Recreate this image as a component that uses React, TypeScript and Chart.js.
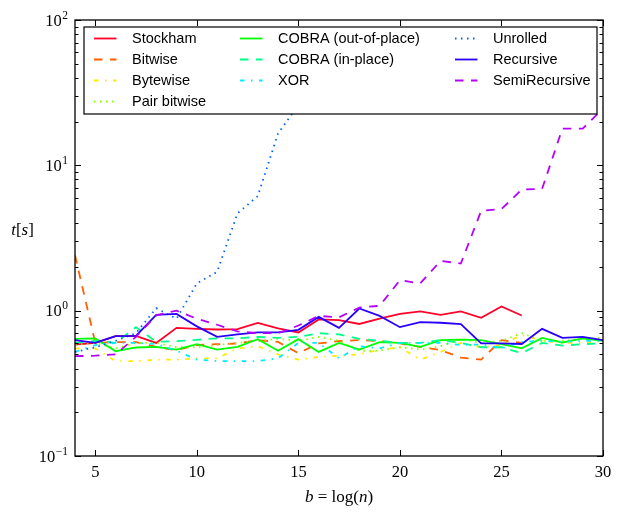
import { useEffect, useRef } from "react";
import { Chart, registerables } from "chart.js";

Chart.register(...registerables);

// log2 of the transform size
const sizes = [
  4, 5, 6, 7, 8, 9, 10, 11, 12, 13, 14, 15, 16, 17, 18, 19, 20, 21, 22, 23, 24,
  25, 26, 27, 28, 29, 30,
];

const stockham = [
  0.585, 0.6, 0.668, 0.67, 0.6, 0.762, 0.75, 0.742, 0.746, 0.824, 0.754, 0.708,
  0.87, 0.86, 0.81, 0.88, 0.95, 0.99, 0.936, 0.99, 0.893, 1.07, 0.927, null,
  null, null, null,
];
const bitwise = [
  2.41, 0.6, 0.607, 0.607, 0.563, 0.535, 0.58, 0.588, 0.595, 0.627, 0.61, 0.51,
  0.595, 0.617, 0.627, 0.617, 0.595, 0.563, 0.535, 0.476, 0.46, 0.627, 0.6,
  null, null, null, null,
];
const bytewise = [
  0.55, 0.55, 0.45, 0.45, 0.46, 0.46, 0.47, 0.47, 0.55, 0.57, 0.5, 0.46, 0.48,
  0.49, 0.5, 0.54, 0.56, 0.46, 0.52, 0.6, 0.56, 0.58, 0.68, 0.62, 0.6, 0.6,
  0.62,
];
const pairBitwise = [
  0.58, 0.6, 0.55, 0.6, 0.6, 0.56, 0.56, 0.58, 0.6, 0.62, 0.64, 0.62, 0.66,
  0.62, 0.53, 0.53, 0.56, 0.54, 0.57, 0.64, 0.6, 0.62, 0.7, 0.62, 0.62, 0.64,
  0.65,
];
const cobraOutOfPlace = [
  0.64, 0.644, 0.526, 0.558, 0.563, 0.54, 0.588, 0.54, 0.563, 0.637, 0.53,
  0.637, 0.52, 0.6, 0.54, 0.607, 0.6, 0.563, 0.627, 0.633, 0.627, 0.588, 0.55,
  0.65, 0.604, 0.644, 0.62,
];
const cobraInPlace = [
  0.6, 0.62, 0.6, 0.77, 0.61, 0.617, 0.63, 0.645, 0.645, 0.66, 0.65, 0.66, 0.7,
  0.686, 0.64, 0.62, 0.6, 0.6, 0.627, 0.6, 0.56, 0.56, 0.51, 0.6, 0.575, 0.588,
  0.595,
];
const xor = [
  0.52, 0.58, 0.6, 0.6, 0.59, 0.53, 0.46, 0.45, 0.45, 0.45, 0.47, 0.6, 0.6,
  0.47, 0.57, 0.55, 0.6, 0.6, 0.6, 0.58, 0.585, 0.55, 0.61, 0.62, 0.61, 0.62,
  0.62,
];
const unrolled = [
  0.52, 0.56, 0.62, 0.7, 1.04, 0.88, 1.54, 1.85, 4.67, 6.14, 16.6, 26, null,
  null, null, null, null, null, null, null, null, null, null, null, null, null,
  null,
];
const recursive = [
  0.627, 0.6, 0.668, 0.67, 0.936, 0.95, 0.78, 0.66, 0.686, 0.708, 0.71, 0.738,
  0.906, 0.762, 1.035, 0.92, 0.77, 0.833, 0.826, 0.807, 0.595, 0.595, 0.59,
  0.75, 0.65, 0.66, 0.627,
];
const semiRecursive = [
  0.486, 0.49, 0.5, 0.66, 0.93, 1.0, 0.88, 0.8, 0.72, 0.7, 0.7, 0.79, 0.92,
  0.9, 1.05, 1.08, 1.62, 1.54, 2.2, 2.11, 4.86, 5.0, 6.82, 6.88, 17.9, 17.9,
  24.6,
];

const names = [
  "Stockham",
  "Bitwise",
  "Bytewise",
  "Pair bitwise",
  "COBRA (out-of-place)",
  "COBRA (in-place)",
  "XOR",
  "Unrolled",
  "Recursive",
  "SemiRecursive",
];
const series = [
  stockham,
  bitwise,
  bytewise,
  pairBitwise,
  cobraOutOfPlace,
  cobraInPlace,
  xor,
  unrolled,
  recursive,
  semiRecursive,
];

const xTicks = [5, 10, 15, 20, 25, 30];
const yTicks = [0.1, 1, 10, 100];
const minorSteps = [2, 3, 4, 5, 6, 7, 8, 9];

// gist_rainbow, sampled once per series
const colors = [
  "#ff0029",
  "#ff6000",
  "#ffea00",
  "#8aff00",
  "#00ff00",
  "#00ff89",
  "#00ecff",
  "#0061ff",
  "#2900ff",
  "#b400ff",
];
// matplotlib cycle: "-", "--", "-.", ":"
const dashes = [[], [8.5, 7.5], [4.5, 6.5, 1.5, 6.5], [1.5, 4.5]];
const legendColumns = [4, 3, 3];

const SERIF = '"Liberation Serif", serif';
const SANS = '"Liberation Sans", Arial, sans-serif';

function drawRich(
  ctx: CanvasRenderingContext2D,
  parts: [string, boolean][],
  cx: number,
  cy: number,
  size: number
) {
  const font = (it: boolean) => `${it ? "italic " : ""}${size}px ${SERIF}`;
  let w = 0;
  for (const [t, it] of parts) {
    ctx.font = font(it);
    w += ctx.measureText(t).width;
  }
  let x = cx - w / 2;
  ctx.textAlign = "left";
  ctx.textBaseline = "middle";
  for (const [t, it] of parts) {
    ctx.font = font(it);
    ctx.fillText(t, x, cy);
    x += ctx.measureText(t).width;
  }
}

const decorations = {
  id: "decorations",
  afterDraw(chart: Chart) {
    const { ctx, chartArea: a } = chart;
    const xs = chart.scales.x;
    const ys = chart.scales.y;
    ctx.save();

    // inward ticks on all four sides
    ctx.strokeStyle = "#000";
    ctx.lineWidth = 1;
    ctx.setLineDash([]);
    ctx.beginPath();
    for (const v of xTicks) {
      const px = Math.round(xs.getPixelForValue(v)) + 0.5;
      ctx.moveTo(px, a.bottom);
      ctx.lineTo(px, a.bottom - 6);
      ctx.moveTo(px, a.top);
      ctx.lineTo(px, a.top + 6);
    }
    for (const base of yTicks) {
      const steps = [1, ...(base < 100 ? minorSteps : [])];
      for (const m of steps) {
        const py = Math.round(ys.getPixelForValue(base * m)) + 0.5;
        const len = m === 1 ? 6 : 3.5;
        ctx.moveTo(a.left, py);
        ctx.lineTo(a.left + len, py);
        ctx.moveTo(a.right, py);
        ctx.lineTo(a.right - len, py);
      }
    }
    ctx.stroke();

    ctx.lineWidth = 1.3;
    ctx.strokeRect(a.left, a.top, a.right - a.left, a.bottom - a.top);

    // tick labels
    ctx.fillStyle = "#000";
    ctx.font = `16.5px ${SERIF}`;
    ctx.textAlign = "center";
    ctx.textBaseline = "middle";
    for (const v of xTicks) {
      ctx.fillText(String(v), xs.getPixelForValue(v), a.bottom + 17);
    }
    for (const v of yTicks) {
      const py = ys.getPixelForValue(v);
      const exp = Math.round(Math.log10(v));
      const sup = exp < 0 ? `\u2212${-exp}` : String(exp);
      ctx.textAlign = "right";
      ctx.textBaseline = "alphabetic";
      ctx.font = `11.5px ${SERIF}`;
      const supW = ctx.measureText(sup).width;
      const right = a.left - 7;
      ctx.fillText(sup, right, py - 1.5);
      ctx.font = `16.5px ${SERIF}`;
      ctx.fillText("10", right - supW - 0.5, py + 5.5);
    }

    // axis titles
    drawRich(
      ctx,
      [
        ["b", true],
        [" = ", false],
        ["log", false],
        ["(", false],
        ["n", true],
        [")", false],
      ],
      (a.left + a.right) / 2,
      a.bottom + 42,
      17
    );
    drawRich(
      ctx,
      [
        ["t", true],
        ["[", false],
        ["s", true],
        ["]", false],
      ],
      22.5,
      231,
      17
    );

    // legend, column-major like matplotlib's ncol=3
    const box = { left: 84, top: 27, right: 597, bottom: 114 };
    ctx.fillStyle = "#fff";
    ctx.fillRect(box.left, box.top, box.right - box.left, box.bottom - box.top);
    ctx.strokeStyle = "#000";
    ctx.lineWidth = 1.2;
    ctx.strokeRect(box.left, box.top, box.right - box.left, box.bottom - box.top);

    const colX = [94, 240, 455];
    const rowY = [38.5, 59.5, 80.5, 101.5];
    let idx = 0;
    legendColumns.forEach((count, c) => {
      for (let r = 0; r < count; r++, idx++) {
        const y = rowY[r];
        ctx.strokeStyle = colors[idx];
        ctx.lineWidth = 1.8;
        ctx.setLineDash(dashes[idx % 4]);
        ctx.beginPath();
        ctx.moveTo(colX[c], y);
        ctx.lineTo(colX[c] + 22.5, y);
        ctx.stroke();
        ctx.setLineDash([]);
        ctx.fillStyle = "#000";
        ctx.font = `14.5px ${SANS}`;
        ctx.textAlign = "left";
        ctx.textBaseline = "middle";
        ctx.fillText(names[idx], colX[c] + 38, y);
      }
    });

    ctx.restore();
  },
};

export default function App() {
  const canvasRef = useRef<HTMLCanvasElement>(null);
  const chartRef = useRef<Chart | null>(null);

  useEffect(() => {
    const canvas = canvasRef.current;
    if (!canvas) return;
    const ctx = canvas.getContext("2d");
    if (!ctx) return;

    if (chartRef.current) {
      chartRef.current.destroy();
    }

    chartRef.current = new Chart(ctx, {
      type: "line",
      data: {
        datasets: names.map((label, i) => ({
          label,
          data: sizes.map((b, j) => ({ x: b, y: series[i][j] })),
          borderColor: colors[i],
          borderWidth: 1.8,
          borderDash: dashes[i % 4],
          borderCapStyle: "butt",
          fill: false,
          pointRadius: 0,
          tension: 0,
          spanGaps: false,
          // later series on top, as matplotlib draws them
          order: names.length - i,
        })),
      },
      options: {
        animation: false,
        responsive: true,
        maintainAspectRatio: false,
        layout: { padding: { top: 20, right: 20, left: 0, bottom: 0 } },
        plugins: {
          legend: { display: false },
          tooltip: { enabled: false },
        },
        scales: {
          x: {
            type: "linear",
            min: 4,
            max: 30,
            grid: { display: false },
            border: { display: false },
            ticks: { display: false },
            afterFit(scale) {
              scale.height = 57;
            },
          },
          y: {
            type: "logarithmic",
            min: 0.1,
            max: 100,
            grid: { display: false },
            border: { display: false },
            ticks: { display: false },
            afterFit(scale) {
              scale.width = 75;
            },
          },
        },
      },
      plugins: [decorations],
    });

    return () => {
      chartRef.current?.destroy();
      chartRef.current = null;
    };
  }, []);

  return (
    <div
      style={{
        position: "fixed",
        left: 0,
        top: 0,
        width: 623,
        height: 513,
        background: "#fff",
      }}
    >
      <canvas
        ref={canvasRef}
        role="img"
        aria-label="Running time t[s] of bit-reversal algorithms against b = log(n), log scale"
      />
    </div>
  );
}
